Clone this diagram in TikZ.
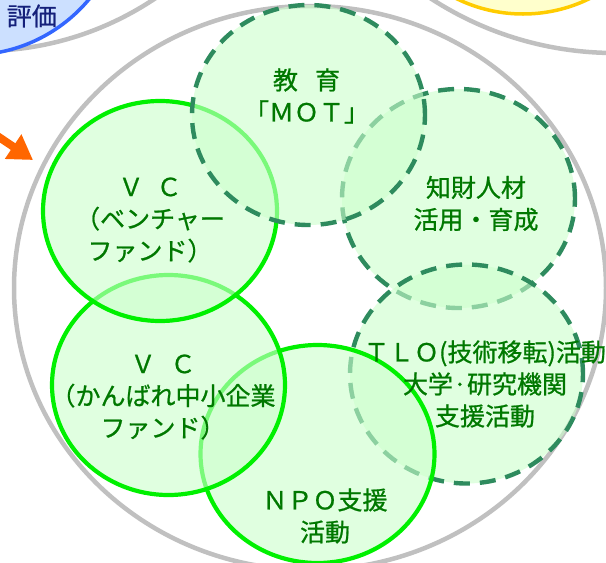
\documentclass[tikz,border=0pt]{standalone}
\usepackage{fontspec}
\setmainfont{Noto Sans CJK JP}
\newfontfamily\lblfont{Noto Sans CJK JP}[FakeBold=0.8]
\usetikzlibrary{arrows.meta}
\definecolor{cf}{HTML}{CCFFCC}
\definecolor{cs}{HTML}{00F000}
\definecolor{cd}{HTML}{2E8B5E}
\definecolor{ct}{HTML}{007800}
\definecolor{gr}{HTML}{C0C0C0}
\definecolor{bl}{HTML}{3366FF}
\definecolor{blf}{HTML}{CCE0FF}
\definecolor{blt}{HTML}{14207A}
\definecolor{yl}{HTML}{FFCC00}
\definecolor{ylf}{HTML}{FFFFCC}
\definecolor{orng}{HTML}{FF6600}
\begin{document}
\begin{tikzpicture}[x=1pt,y=-1pt,
  cfill/.style={fill=cf,fill opacity=0.6},
  solidring/.style={cfill,draw=cs,line width=4.2pt},
  dashring/.style={cfill,draw=cd,line width=4.4pt,dash pattern=on 16pt off 10pt},
  grayring/.style={draw=gr,line width=4.5pt},
  lbl/.style={text=ct,align=center,inner sep=0pt,font=\lblfont\fontsize{25}{32}\selectfont},
]
\useasboundingbox (0,0) rectangle (606,563);
\clip (0,0) rectangle (606,563);
% neighbouring groups
\draw[grayring] (-18,-260) circle[radius=311pt];
\draw[grayring] (615,-285) circle[radius=338pt];
\draw[draw=yl,fill=ylf,line width=3.5pt] (523,-137) circle[radius=151pt];
\draw[draw=bl,fill=blf,line width=3.5pt] (-30,-100) circle[radius=155pt];
\node[anchor=east,text=blt,inner sep=0pt,font=\lblfont\fontsize{25}{32}\selectfont] (eval) at (57,16) {評価};
% main group
\draw[grayring] (310,288) ellipse[x radius=296pt,y radius=282pt];
% arrow
\coordinate (arrS) at (-16,127);
\coordinate (arrT) at (33,160);
\draw[orng,line width=8pt,-{Triangle[length=24pt,width=28pt]}] (arrS) -- (arrT);
% rings, bottom to top
\draw[dashring] (458.5,198.5) ellipse[x radius=116.5pt,y radius=109.5pt];
\draw[dashring] (466.5,374) ellipse[x radius=116.5pt,y radius=109.5pt];
\draw[solidring] (317.5,454) ellipse[x radius=117pt,y radius=109pt];
\draw[solidring] (168.5,385) ellipse[x radius=116.5pt,y radius=110pt];
\draw[solidring] (160,211) ellipse[x radius=117pt,y radius=110pt];
\draw[dashring] (308.5,115) ellipse[x radius=116.5pt,y radius=110pt];
% labels
\node[lbl] (mot) at (306.5,96) {教\hspace{17pt}育\\「ＭＯＴ」};
\node[lbl] (chizai) at (476,203.5) {知財人材\\活用・育成};
\node[lbl] (vc1) at (150,220) {Ｖ\hspace{13pt}Ｃ\\（ベンチャー\\ファンド）};
\node[lbl] (vc2) at (163,397) {Ｖ\hspace{15pt}Ｃ\\（かんばれ中小企業\\ファンド）};
\node[lbl] (tlo) at (485,384) {ＴＬＯ(技術移転)活動\\大学·研究機関\\支援活動};
\node[lbl] (npo) at (325,516) {ＮＰＯ支援\\活動};
\end{tikzpicture}
\end{document}
